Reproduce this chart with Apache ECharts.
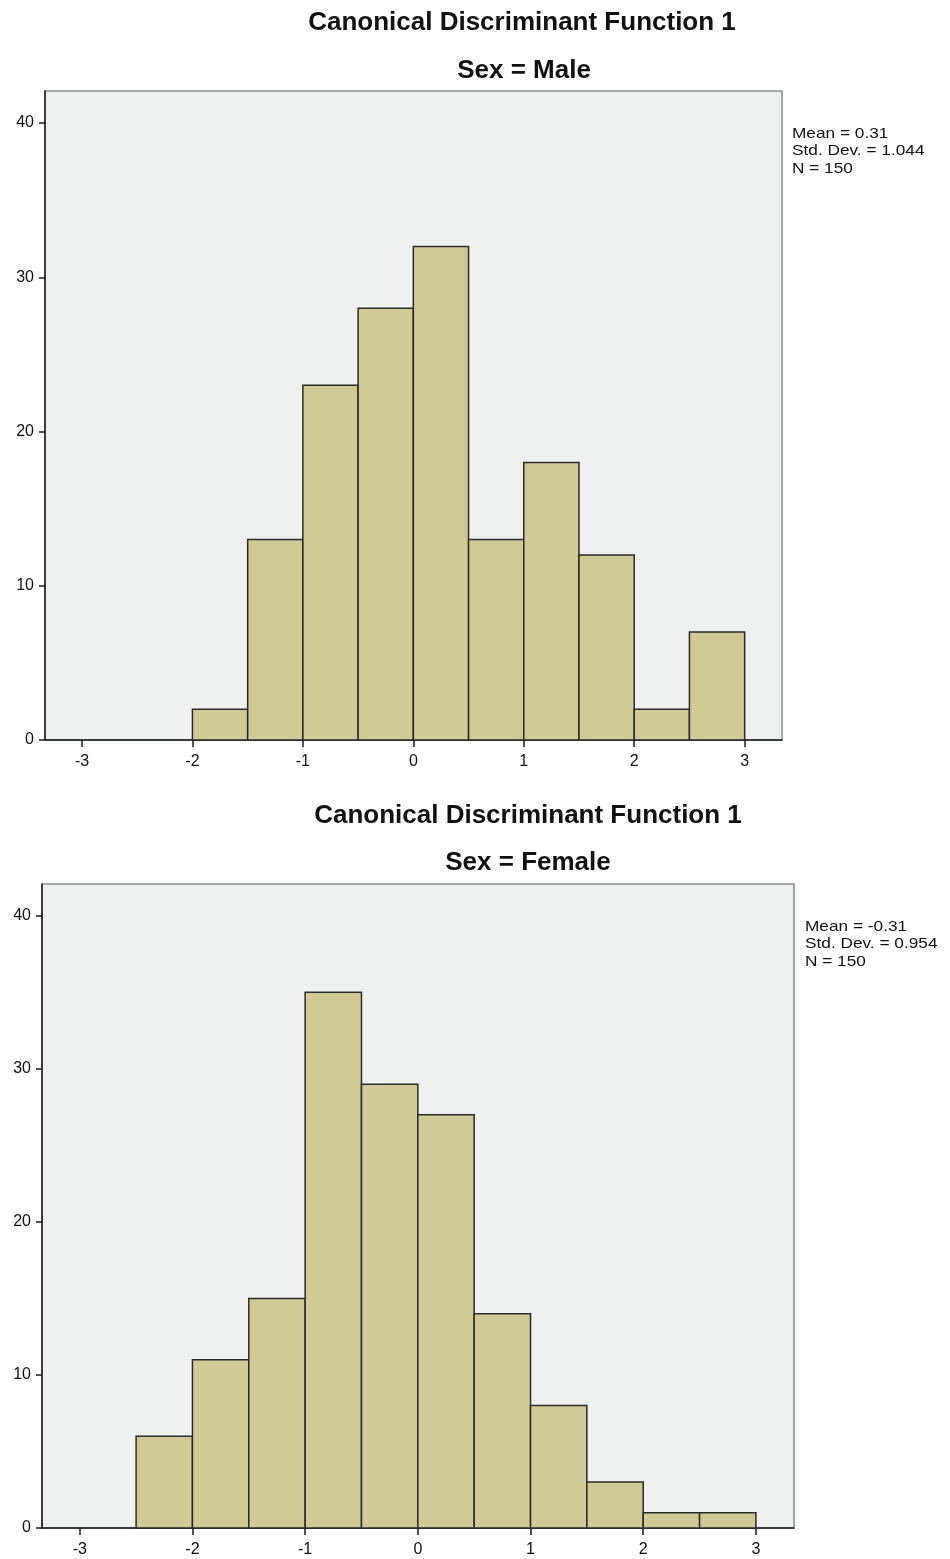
<!DOCTYPE html>
<html>
<head>
<meta charset="utf-8">
<script src="https://cdn.jsdelivr.net/npm/echarts@6/dist/echarts.min.js"></script>
<style>html,body{margin:0;padding:0;background:#fff;}#c{width:950px;height:1559px;}</style>
</head>
<body>
<div id="c"></div>
<script>
// ---- data ----
const binWidth = 0.5;
const maleBinStarts = [-2, -1.5, -1, -0.5, 0, 0.5, 1, 1.5, 2, 2.5];
const maleCounts = [2, 13, 23, 28, 32, 13, 18, 12, 2, 7];
const femaleBinStarts = [-2.5, -2, -1.5, -1, -0.5, 0, 0.5, 1, 1.5, 2, 2.5];
const femaleCounts = [6, 11, 15, 35, 29, 27, 14, 8, 3, 1, 1];
const xTicks = [-3, -2, -1, 0, 1, 2, 3];
const yTicks = [0, 10, 20, 30, 40];
const titleMain = 'Canonical Discriminant Function 1';
const maleTitle = 'Sex = Male';
const femaleTitle = 'Sex = Female';
const maleStats = ['Mean = 0.31', 'Std. Dev. = 1.044', 'N = 150'];
const femaleStats = ['Mean = -0.31', 'Std. Dev. = 0.954', 'N = 150'];

const FONT = 'Liberation Sans, Arial, sans-serif';
const BAR_FILL = '#cecb97';
const PLOT_BG = '#eff0f0';

function toData(starts, counts) {
  return starts.map((s, i) => [s, s + binWidth, counts[i]]);
}

function renderBar(params, api) {
  const p0 = api.coord([api.value(0), api.value(2)]);
  const p1 = api.coord([api.value(1), 0]);
  return {
    type: 'rect',
    shape: { x: p0[0], y: p0[1], width: p1[0] - p0[0], height: p1[1] - p0[1] },
    style: { fill: BAR_FILL, stroke: '#2a2a2a', lineWidth: 1.5 }
  };
}

function xAxisCfg(gi) {
  return {
    type: 'value', gridIndex: gi, min: -3.335, max: 3.338,
    splitLine: { show: false },
    axisLine: { show: true, onZero: false, lineStyle: { color: '#1a1a1a', width: 1.5 } },
    axisTick: { show: true, customValues: xTicks, length: 7, inside: false, lineStyle: { color: '#1a1a1a', width: 1.5 } },
    axisLabel: { customValues: xTicks, color: '#111', fontFamily: FONT, fontSize: 16, margin: 14 }
  };
}
function yAxisCfg(gi) {
  return {
    type: 'value', gridIndex: gi, min: 0, max: 42.08,
    splitLine: { show: false },
    axisLine: { show: true, onZero: false, lineStyle: { color: '#1a1a1a', width: 1.5 } },
    axisTick: { show: true, customValues: yTicks, length: 6, lineStyle: { color: '#1a1a1a', width: 1.5 } },
    axisLabel: { customValues: yTicks, color: '#111', fontFamily: FONT, fontSize: 16, margin: 11 }
  };
}

const grids = [
  { left: 45, top: 91, width: 737, height: 649 },
  { left: 42, top: 884, width: 752, height: 644 }
];

function titleText(x, y, text) {
  return { type: 'text', x: x, y: y, style: { text: text, fill: '#111', font: 'bold 26px ' + FONT, align: 'center', verticalAlign: 'middle' } };
}
function statsText(x, y, lines) {
  return { type: 'text', x: x, y: y, scaleX: 1.15, style: { text: lines.join('\n'), fill: '#111', font: '15px ' + FONT, lineHeight: 17.5, align: 'left', verticalAlign: 'top' } };
}
function frame(g) {
  return { type: 'rect', shape: { x: g.left, y: g.top, width: g.width, height: g.height }, style: { fill: PLOT_BG, stroke: '#8a8a8a', lineWidth: 1.5 }, z: -10 };
}

const chart = echarts.init(document.getElementById('c'), null, { renderer: 'canvas' });
chart.setOption({
  animation: false,
  backgroundColor: '#ffffff',
  grid: grids,
  xAxis: [xAxisCfg(0), xAxisCfg(1)],
  yAxis: [yAxisCfg(0), yAxisCfg(1)],
  series: [
    { type: 'custom', xAxisIndex: 0, yAxisIndex: 0, renderItem: renderBar, data: toData(maleBinStarts, maleCounts), encode: { x: [0, 1], y: 2 }, z: 5 },
    { type: 'custom', xAxisIndex: 1, yAxisIndex: 1, renderItem: renderBar, data: toData(femaleBinStarts, femaleCounts), encode: { x: [0, 1], y: 2 }, z: 5 }
  ],
  graphic: [
    frame(grids[0]), frame(grids[1]),
    titleText(522, 23, titleMain),
    titleText(524, 71, maleTitle),
    titleText(528, 816, titleMain),
    titleText(528, 863, femaleTitle),
    statsText(792, 125, maleStats),
    statsText(805, 918, femaleStats)
  ]
});
</script>
</body>
</html>
